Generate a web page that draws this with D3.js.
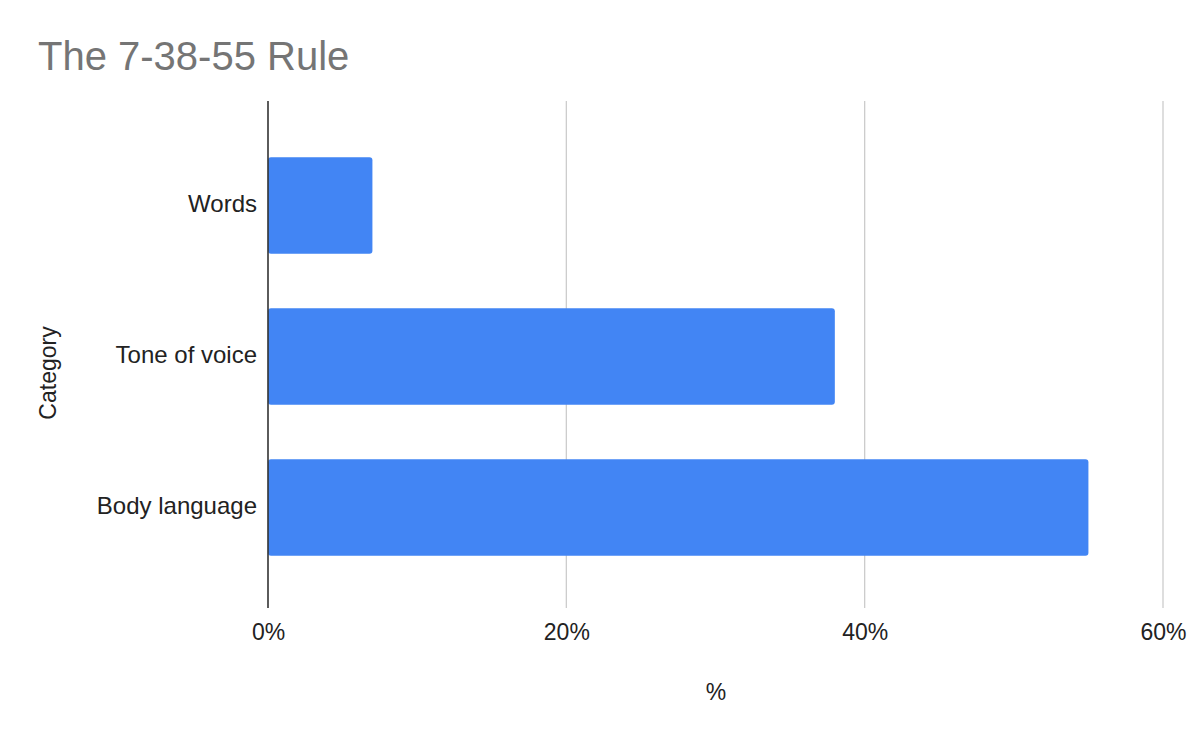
<!DOCTYPE html>
<html><head><meta charset="utf-8">
<script src="https://cdn.jsdelivr.net/npm/d3@7"></script>
<style>body{margin:0;background:#fff}svg{display:block}</style>
</head><body>
<svg id="c" width="1200" height="743"></svg>
<script>
const categories = ["Words", "Tone of voice", "Body language"];
const values = [7, 38, 55];
const xTicks = [0, 20, 40, 60];
const title = "The 7-38-55 Rule";
const xTitle = "%";
const yTitle = "Category";

const svg = d3.select("#c");
const font = "'Liberation Sans', Arial, sans-serif";
const x = d3.scaleLinear().domain([0, 60]).range([268, 1163]);
const y = d3.scaleBand().domain(categories).range([130, 583]).paddingInner(0.36).paddingOuter(0.18);
const plotTop = 101, plotBottom = 608;

svg.append("rect").attr("width",1200).attr("height",743).attr("fill","#fff");

svg.append("text").attr("x",38).attr("y",70).attr("font-family",font).attr("font-size",40)
  .attr("fill","#757575").text(title);

// gridlines
svg.append("g").selectAll("line").data(xTicks.filter(d=>d>0)).join("line")
  .attr("x1",d=>x(d)).attr("x2",d=>x(d)).attr("y1",plotTop).attr("y2",plotBottom)
  .attr("stroke","#cccccc").attr("stroke-width",1.3);

// bars
svg.append("g").selectAll("rect").data(categories).join("rect")
  .attr("x",x(0)).attr("y",d=>y(d)).attr("height",y.bandwidth())
  .attr("width",(d,i)=>x(values[i])-x(0)).attr("rx",3).attr("fill","#4285f4");

// baseline
svg.append("line").attr("x1",x(0)).attr("x2",x(0)).attr("y1",plotTop).attr("y2",plotBottom)
  .attr("stroke","#333").attr("stroke-width",1.6);

// x tick labels
const xa = d3.axisBottom(x).tickValues(xTicks).tickFormat(d=>d+"%").tickSize(0).tickPadding(0);
const gx = svg.append("g").attr("transform","translate(0,624)").call(xa);
gx.select(".domain").remove();
gx.selectAll("text").attr("font-family",font).attr("font-size",23).attr("fill","#222").attr("dy","0.71em");

// y tick labels
const ya = d3.axisLeft(y).tickSize(0).tickPadding(11);
const gy = svg.append("g").attr("transform",`translate(${x(0)},0)`).call(ya);
gy.select(".domain").remove();
gy.selectAll("text").attr("font-family",font).attr("font-size",24).attr("fill","#222").attr("dy","0.28em");

svg.append("text").attr("x",716).attr("y",700).attr("text-anchor","middle")
  .attr("font-family",font).attr("font-size",23).attr("fill","#222").text(xTitle);
svg.append("text").attr("transform","translate(56,373) rotate(-90)").attr("text-anchor","middle")
  .attr("font-family",font).attr("font-size",23).attr("fill","#222").text(yTitle);
</script>
</body></html>
